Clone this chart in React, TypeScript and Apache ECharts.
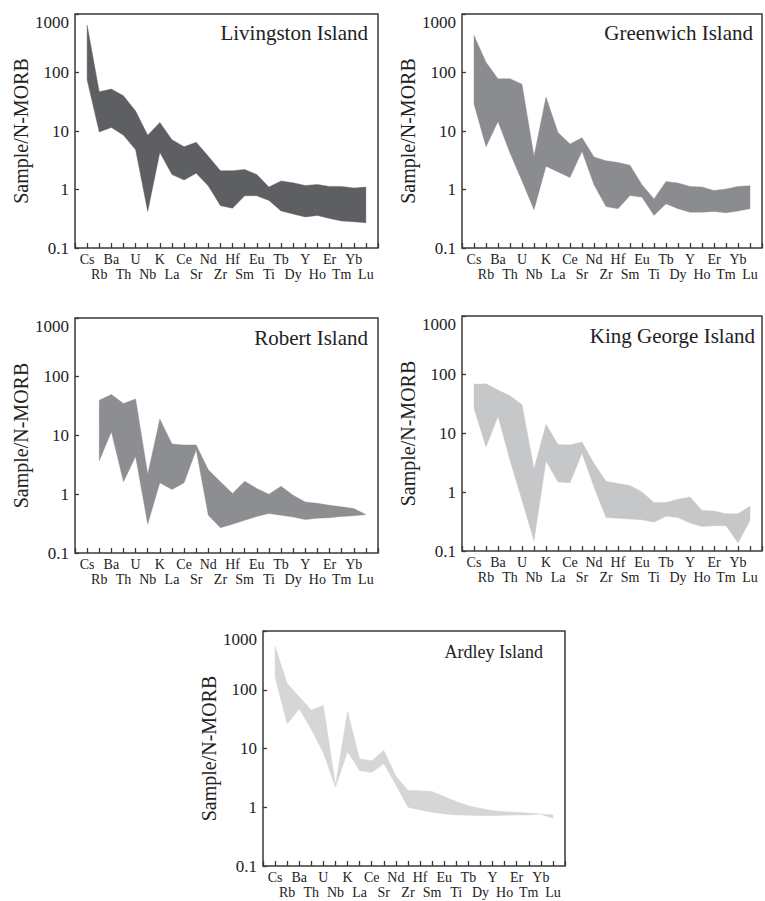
import React, { useEffect, useRef } from 'react';
import * as echarts from 'echarts';

// Elements in the spider diagram order
const ELEMENTS = ['Cs', 'Rb', 'Ba', 'Th', 'U', 'Nb', 'K', 'La', 'Ce', 'Sr', 'Nd', 'Zr', 'Hf', 'Sm', 'Eu', 'Ti', 'Tb', 'Dy', 'Y', 'Ho', 'Er', 'Tm', 'Yb', 'Lu'];
const Y_TICK_LABELS = ['0.1', '1', '10', '100', '1000'];
const Y_AXIS_NAME = 'Sample/N-MORB';

// Sample / N-MORB envelopes (upper and lower bounds)
const LIVINGSTON_UPPER = [650, 47, 52, 40, 22, 8.5, 14, 7.1, 5.4, 6.4, 3.7, 2.1, 2.1, 2.2, 1.8, 1.1, 1.4, 1.3, 1.17, 1.22, 1.13, 1.13, 1.06, 1.1];
const LIVINGSTON_LOWER = [75, 9.6, 11.5, 8.5, 4.8, 0.42, 4.3, 1.8, 1.45, 1.9, 1.15, 0.53, 0.48, 0.78, 0.78, 0.65, 0.43, 0.38, 0.34, 0.36, 0.32, 0.29, 0.28, 0.27];

const GREENWICH_UPPER = [430, 150, 78, 78, 63, 3.7, 38, 9.4, 6.0, 7.7, 3.6, 3.1, 2.9, 2.6, 1.2, 0.69, 1.37, 1.29, 1.13, 1.1, 0.96, 1.02, 1.13, 1.16];
const GREENWICH_LOWER = [29, 5.4, 14.5, 4.2, 1.4, 0.45, 2.5, 2.0, 1.6, 4.5, 1.2, 0.51, 0.47, 0.79, 0.74, 0.36, 0.57, 0.47, 0.41, 0.41, 0.42, 0.40, 0.43, 0.47];

const ROBERT_UPPER = [null, 40, 50, 35, 42, 2.2, 19, 7.2, 6.9, 6.9, 2.6, 1.63, 1.03, 1.67, 1.25, 1.0, 1.37, 0.96, 0.74, 0.70, 0.65, 0.61, 0.57, 0.45];
const ROBERT_LOWER = [null, 3.7, 11.6, 1.63, 4.4, 0.31, 1.57, 1.2, 1.57, 5.7, 0.44, 0.27, 0.31, 0.36, 0.42, 0.47, 0.44, 0.41, 0.37, 0.39, 0.40, 0.42, 0.43, 0.45];

const KING_GEORGE_UPPER = [69, 70, 55, 44, 31, 2.5, 14.4, 6.5, 6.4, 7.2, 3.1, 1.54, 1.41, 1.3, 1.01, 0.67, 0.67, 0.76, 0.83, 0.49, 0.48, 0.43, 0.43, 0.58];
const KING_GEORGE_LOWER = [27, 5.9, 19.7, 3.5, 0.73, 0.15, 3.4, 1.5, 1.45, 4.6, 1.23, 0.37, 0.36, 0.35, 0.34, 0.31, 0.39, 0.37, 0.30, 0.26, 0.27, 0.27, 0.137, 0.33];

const ARDLEY_UPPER = [552, 129, 76, 45, 54, 2.4, 43, 6.7, 6.2, 9.3, 3.4, 1.95, 1.9, 1.85, 1.52, 1.25, 1.06, 0.96, 0.88, 0.84, 0.82, 0.80, 0.77, 0.74];
const ARDLEY_LOWER = [164, 26, 47, 21, 8.4, 2.2, 8.8, 4.2, 3.9, 5.5, 2.4, 1.0, 0.9, 0.82, 0.77, 0.74, 0.73, 0.72, 0.72, 0.73, 0.74, 0.74, 0.76, 0.65];

const PANELS = [
  { title: 'Livingston Island', upper: LIVINGSTON_UPPER, lower: LIVINGSTON_LOWER, color: '#5e5f63',
    grid: { left: 75, top: 14, width: 303, height: 234 }, titlePos: { x: 368, y: 33, size: 21 } },
  { title: 'Greenwich Island', upper: GREENWICH_UPPER, lower: GREENWICH_LOWER, color: '#8b8c90',
    grid: { left: 462, top: 14, width: 302, height: 234 }, titlePos: { x: 753, y: 33, size: 21 } },
  { title: 'Robert Island', upper: ROBERT_UPPER, lower: ROBERT_LOWER, color: '#8d8e91',
    grid: { left: 75, top: 318, width: 303, height: 235 }, titlePos: { x: 368, y: 338, size: 21 } },
  { title: 'King George Island', upper: KING_GEORGE_UPPER, lower: KING_GEORGE_LOWER, color: '#c6c7c9',
    grid: { left: 462, top: 316, width: 302, height: 235 }, titlePos: { x: 755, y: 336, size: 21 } },
  { title: 'Ardley Island', upper: ARDLEY_UPPER, lower: ARDLEY_LOWER, color: '#d5d6d8',
    grid: { left: 263, top: 631, width: 302, height: 235 }, titlePos: { x: 543, y: 652, size: 18 } },
];

const FONT = '"Liberation Serif", "Times New Roman", serif';
const TEXT = '#222222';
const LINE = '#3a3a3a';

export default function App() {
  const ref = useRef<HTMLDivElement>(null);

  useEffect(() => {
    document.body.style.margin = '0';
    if (!ref.current) return;
    const chart = echarts.init(ref.current, undefined, { renderer: 'svg' });

    const grids: any[] = [];
    const xAxes: any[] = [];
    const yAxes: any[] = [];
    const series: any[] = [];
    const graphics: any[] = [];

    PANELS.forEach((p, k) => {
      grids.push({
        ...p.grid,
        show: true,
        borderColor: LINE,
        borderWidth: 1.5,
        backgroundColor: 'transparent',
        containLabel: false,
      });
      xAxes.push({
        type: 'value',
        gridIndex: k,
        min: 0,
        max: ELEMENTS.length + 1,
        interval: 1,
        splitLine: { show: false },
        axisLine: { show: false },
        axisTick: { show: true, inside: true, length: 5, lineStyle: { color: LINE, width: 1.3 } },
        axisLabel: {
          show: true,
          margin: 4,
          fontFamily: FONT,
          fontSize: 14,
          lineHeight: 15,
          color: TEXT,
          verticalAlign: 'top',
          formatter: (v: number) => {
            const i = Math.round(v) - 1;
            if (i < 0 || i >= ELEMENTS.length) return '';
            return i % 2 === 0 ? ELEMENTS[i] : '\n' + ELEMENTS[i];
          },
        },
      });
      yAxes.push({
        type: 'log',
        gridIndex: k,
        logBase: 10,
        min: 0.1,
        max: 1000,
        splitLine: { show: false },
        axisLine: { show: false },
        axisTick: { show: true, inside: true, length: 4, lineStyle: { color: LINE, width: 1.3 } },
        axisLabel: {
          margin: 6,
          fontFamily: FONT,
          fontSize: 17,
          color: TEXT,
          verticalAlignMaxLabel: 'top',
          formatter: (v: number) => {
            const l = Math.round(Math.log10(v));
            return Y_TICK_LABELS[l + 1] ?? '';
          },
        },
        name: Y_AXIS_NAME,
        nameLocation: 'middle',
        nameGap: 44,
        nameTextStyle: { fontFamily: FONT, fontSize: 20, color: TEXT },
      });

      const data = ELEMENTS.map((e, i) => [i + 1, p.lower[i], p.upper[i]]).filter(
        (d) => d[1] != null && d[2] != null
      );
      const upper = p.upper;
      const lower = p.lower;
      series.push({
        type: 'custom',
        name: p.title,
        xAxisIndex: k,
        yAxisIndex: k,
        coordinateSystem: 'cartesian2d',
        encode: { x: 0, y: [1, 2] },
        data,
        clip: true,
        renderItem: (params: any, api: any) => {
          if (params.dataIndex !== 0) return null;
          const pts: number[][] = [];
          for (let i = 0; i < ELEMENTS.length; i++) {
            if (upper[i] != null) pts.push(api.coord([i + 1, upper[i]]));
          }
          for (let i = ELEMENTS.length - 1; i >= 0; i--) {
            if (lower[i] != null) pts.push(api.coord([i + 1, lower[i]]));
          }
          return {
            type: 'polygon',
            shape: { points: pts },
            style: { fill: p.color, stroke: p.color, lineWidth: 0.4 },
          };
        },
      });

      graphics.push({
        type: 'text',
        x: p.titlePos.x,
        y: p.titlePos.y,
        style: {
          text: p.title,
          fill: TEXT,
          font: `${p.titlePos.size}px ${FONT}`,
          align: 'right',
          verticalAlign: 'middle',
        },
      });
    });

    chart.setOption({
      animation: false,
      backgroundColor: '#ffffff',
      grid: grids,
      xAxis: xAxes,
      yAxis: yAxes,
      series,
      graphic: graphics,
    });

    return () => chart.dispose();
  }, []);

  return <div ref={ref} style={{ width: 765, height: 901 }} />;
}
